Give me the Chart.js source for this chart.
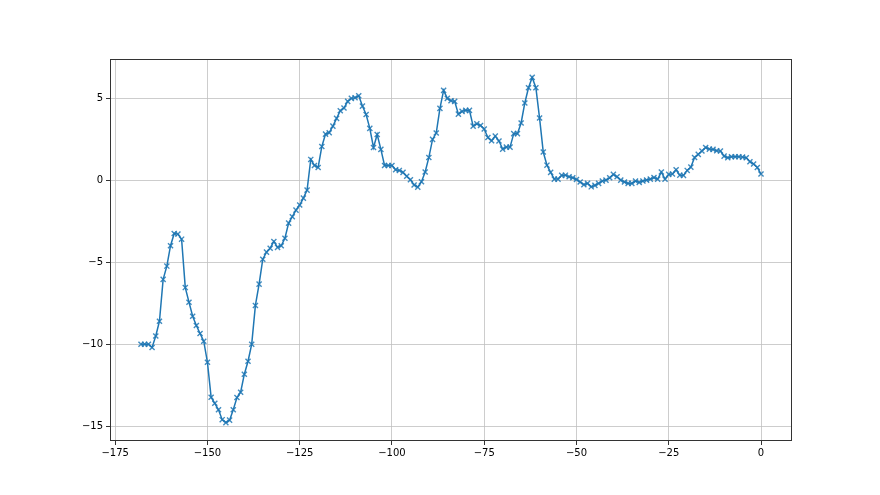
<!DOCTYPE html>
<html>
<head>
<meta charset="utf-8">
<script src="https://cdn.jsdelivr.net/npm/chart.js@4/dist/chart.umd.min.js"></script>
<style>
html,body{margin:0;padding:0;background:#fff;}
#wrap{width:880px;height:495px;}
</style>
</head>
<body>
<div id="wrap"><canvas id="c" width="880" height="495"></canvas></div>
<script>
const xStart = -168;
const values = [
-10.0,-10.0,-10.0,-10.2,-9.5,-8.6,-6.05,-5.24,-4.0,-3.25,
-3.29,-3.6,-6.55,-7.44,-8.3,-8.86,-9.35,-9.82,-11.1,-13.23,
-13.6,-14.0,-14.6,-14.78,-14.63,-14.0,-13.25,-12.93,-11.83,-11.04,
-10.0,-7.64,-6.34,-4.82,-4.39,-4.15,-3.74,-4.1,-4.0,-3.54,
-2.62,-2.23,-1.83,-1.52,-1.1,-0.61,1.26,0.89,0.77,2.05,
2.8,2.89,3.29,3.76,4.23,4.39,4.8,4.98,5.02,5.14,
4.51,4.0,3.15,1.99,2.78,1.87,0.89,0.89,0.89,0.63,
0.59,0.47,0.23,0.02,-0.3,-0.43,-0.1,0.49,1.38,2.48,
2.87,4.37,5.47,4.98,4.84,4.8,4.02,4.19,4.25,4.25,
3.29,3.43,3.33,3.11,2.6,2.4,2.68,2.38,1.89,2.01,
2.01,2.83,2.83,3.48,4.7,5.63,6.26,5.63,3.78,1.71,
0.91,0.47,0.06,0.06,0.29,0.3,0.2,0.14,0.04,-0.12,
-0.28,-0.2,-0.41,-0.32,-0.2,-0.06,0,0.14,0.35,0.2,
0,-0.12,-0.2,-0.2,-0.06,-0.14,-0.06,0,0.06,0.16,
0.06,0.49,0.06,0.35,0.37,0.63,0.3,0.29,0.59,0.79,
1.38,1.57,1.77,1.99,1.89,1.87,1.79,1.77,1.46,1.36,
1.42,1.42,1.42,1.4,1.36,1.12,0.98,0.77,0.37
];
const xTicks = [-175,-150,-125,-100,-75,-50,-25,0];
const yTicks = [-15,-10,-5,0,5];

const points = values.map((v,i)=>({x:xStart+i, y:v}));
const fmt = v => (v<0?'\u2212':'') + Math.abs(v);

const framePlugin = {
  id:'frame',
  afterDraw(chart){
    const a = chart.chartArea, ctx = chart.ctx;
    ctx.save();
    ctx.strokeStyle = '#333';
    ctx.lineWidth = 1;
    ctx.strokeRect(Math.round(a.left)+0.5, Math.round(a.top)+0.5, Math.round(a.right-a.left)-1, Math.round(a.bottom-a.top)-1);
    ctx.restore();
  }
};

new Chart(document.getElementById('c'), {
  type:'line',
  data:{datasets:[{
    data:points,
    borderColor:'#1f77b4',
    backgroundColor:'rgba(31,119,180,0.5)',
    borderWidth:1.5,
    pointStyle:'crossRot',
    pointRadius:3.6,
    pointBorderWidth:1.4,
    pointBorderColor:'rgba(31,119,180,0.85)',
    tension:0,
    fill:false
  }]},
  options:{
    responsive:false,
    animation:false,
    events:[],
    layout:{padding:{left:0,top:59,right:88,bottom:0}},
    plugins:{legend:{display:false},tooltip:{enabled:false}},
    scales:{
      x:{
        type:'linear',
        min:-176.4, max:8.4,
        afterBuildTicks(s){ s.ticks = xTicks.map(v=>({value:v})); },
        afterFit(s){ s.height = 54; },
        grid:{color:'#c0c0c0',lineWidth:0.8,tickColor:'#000',tickLength:4,drawTicks:true},
        border:{display:false},
        ticks:{color:'#000',font:{family:'DejaVu Sans',size:10},padding:2,maxRotation:0,callback:fmt}
      },
      y:{
        type:'linear',
        min:-15.9, max:7.38,
        afterBuildTicks(s){ s.ticks = yTicks.map(v=>({value:v})); },
        afterFit(s){ s.width = 110; },
        grid:{color:'#c0c0c0',lineWidth:0.8,tickColor:'#000',tickLength:4,drawTicks:true},
        border:{display:false},
        ticks:{color:'#000',font:{family:'DejaVu Sans',size:10},padding:3,callback:fmt}
      }
    }
  },
  plugins:[framePlugin]
});
</script>
</body>
</html>
